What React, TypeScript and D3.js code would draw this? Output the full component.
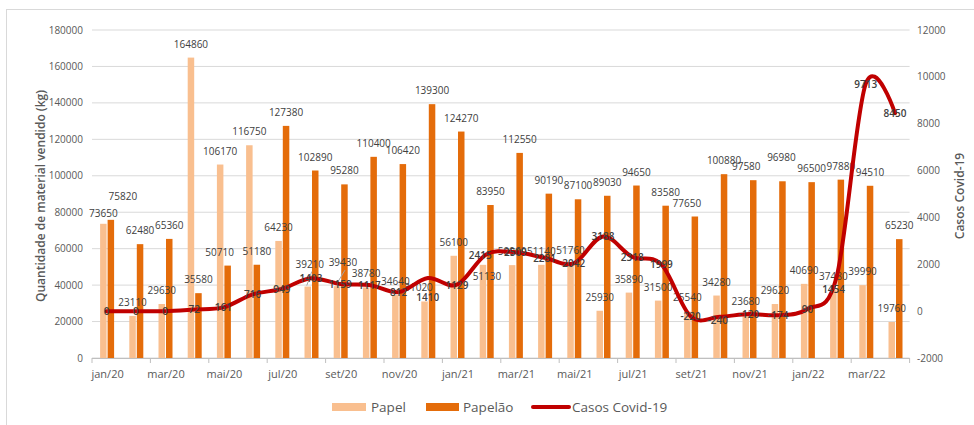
import React from "react";
import * as d3 from "d3";

const months = [
  "jan/20","fev/20","mar/20","abr/20","mai/20","jun/20","jul/20","ago/20","set/20","out/20","nov/20","dez/20",
  "jan/21","fev/21","mar/21","abr/21","mai/21","jun/21","jul/21","ago/21","set/21","out/21","nov/21","dez/21",
  "jan/22","fev/22","mar/22","abr/22"
];
const papel = [
  73650, 23110, 29630, 164860, 106170, 116750, 64230, 39210, 39430, 38780, 34640, 31020,
  56100, 51130, 50960, 51140, 51760, 25930, 35890, 31500, 25540, 34280, 23680, 29620,
  40690, 37480, 39990, 19760
];
const papelao = [
  75820, 62480, 65360, 35580, 50710, 51180, 127380, 102890, 95280, 110400, 106420, 139300,
  124270, 83950, 112550, 90190, 87100, 89030, 94650, 83580, 77650, 100880, 97580, 96980,
  96500, 97880, 94510, 65230
];
const covid = [
  0, 0, 0, 72, 161, 716, 949, 1403, 1159, 1117, 812, 1410,
  1129, 2415, 2509, 2281, 2042, 3188, 2318, 1999, -220, -240, -120, -174,
  90, 1454, 9713, 8450
];
const leftTicks = [0, 20000, 40000, 60000, 80000, 100000, 120000, 140000, 160000, 180000];
const rightTicks = [-2000, 0, 2000, 4000, 6000, 8000, 10000, 12000];

// manual label displacements (as moved by hand in the original chart)
const nudges: Record<string, [number, number, boolean?]> = {
  "p0": [0, 3.5],
  "q0": [12, -9.5],
  "p7": [2, -9, true],
  "p8": [6, -10, true],
  "p11": [-6, 0],
  "p13": [4, 25],
  "q4": [-8, 0],
  "q20": [-8, 0],
  "q22": [-7, 0],
  "q23": [-1, -10],
  "c11": [0, 19],
  "c13": [-6, 0],
  "c21": [-2, 3],
  "c25": [-3, 12],
};

const W = 974, H = 425;
const PL = 92, PR = 909.6, PT = 30, PB = 358;
const C_PAPEL = "#F9BF8F";
const C_PAPELAO = "#E46C0A";
const C_LINE = "#C00000";
const FONT = "'Open Sans', 'Noto Sans', sans-serif";

export default function App() {
  const x = d3.scaleBand<string>().domain(months).range([PL, PR]).paddingInner(0).paddingOuter(0);
  const yL = d3.scaleLinear().domain([0, 180000]).range([PB, PT]);
  const yR = d3.scaleLinear().domain([-2000, 12000]).range([PB, PT]);
  const cx = (i: number) => (x(months[i]) as number) + x.bandwidth() / 2;
  const bw = 6.5;
  const line = d3.line<number>()
    .x((_, i) => cx(i))
    .y((d) => yR(d))
    .curve(d3.curveCardinal.tension(0));

  const nd = (k: string) => nudges[k] || [0, 0, false];

  const barLabel = (key: string, v: number, bx: number) => {
    const [dx, dy, leader] = nd(key);
    const lx = bx + dx, ly = yL(v) - 10 + dy;
    return (
      <g key={key}>
        {leader ? (
          <line x1={bx - 1} y1={yL(v) - 1} x2={lx + 2} y2={ly + 4} stroke="#a6a6a6" strokeWidth={1} />
        ) : null}
        <text x={lx} y={ly} textAnchor="middle" fontFamily={FONT} fontSize={10} fill="#404040">{v}</text>
      </g>
    );
  };

  return (
    <svg width={W} height={H} style={{ position: "fixed", left: 0, top: 0, background: "#fff" }}>
      <rect x={6.5} y={9.5} width={W} height={H} fill="#fff" stroke="#d9d9d9" />
      {leftTicks.map((t) => (
        <line key={"g" + t} x1={PL} x2={PR} y1={yL(t)} y2={yL(t)} stroke="#d9d9d9" strokeWidth={1} />
      ))}
      {leftTicks.map((t) => (
        <text key={"l" + t} x={83} y={yL(t) + 3.5} textAnchor="end" fontFamily={FONT} fontSize={10} fill="#595959">{t}</text>
      ))}
      {rightTicks.map((t) => (
        <text key={"r" + t} x={917} y={yR(t) + 3.5} textAnchor="start" fontFamily={FONT} fontSize={10} fill="#595959">{t}</text>
      ))}
      {papel.map((v, i) => (
        <rect key={"p" + i} x={cx(i) - bw} y={yL(v)} width={bw} height={PB - yL(v)} fill={C_PAPEL} />
      ))}
      {papelao.map((v, i) => (
        <rect key={"q" + i} x={cx(i) + 1} y={yL(v)} width={bw} height={PB - yL(v)} fill={C_PAPELAO} />
      ))}
      <line x1={PL} x2={PR} y1={PB + 0.5} y2={PB + 0.5} stroke="#bfbfbf" />
      {months.map((m, i) => (i % 2 === 0 ? (
        <line key={"t" + i} x1={x(m)} x2={x(m)} y1={PB} y2={PB + 5} stroke="#bfbfbf" />
      ) : null))}
      <line x1={PR} x2={PR} y1={PB} y2={PB + 5} stroke="#bfbfbf" />
      {months.map((m, i) => (i % 2 === 0 ? (
        <text key={"x" + i} x={cx(i) + 1} y={PB + 20} textAnchor="middle" fontFamily={FONT} fontSize={11} fill="#595959">{m}</text>
      ) : null))}
      {papel.map((v, i) => barLabel("p" + i, v, cx(i) - bw / 2))}
      {papelao.map((v, i) => barLabel("q" + i, v, cx(i) + 1 + bw / 2))}
      <path d={line(covid) || ""} fill="none" stroke={C_LINE} strokeWidth={4} strokeLinejoin="round" strokeLinecap="round" />
      {covid.map((v, i) => {
        const [dx, dy] = nd("c" + i);
        return (
          <text key={"cl" + i} x={cx(i) + dx} y={yR(v) + 4 + dy} textAnchor="middle" fontFamily={FONT} fontSize={10} fontWeight={600} fill="#404040">{v}</text>
        );
      })}
      <text transform={`translate(45,196) rotate(-90)`} textAnchor="middle" fontFamily={FONT} fontSize={12} fontWeight={600} fill="#595959">Quantidade de material vendido (kg)</text>
      <text transform={`translate(964,196) rotate(-90)`} textAnchor="middle" fontFamily={FONT} fontSize={12} fontWeight={600} fill="#595959">Casos Covid-19</text>
      <rect x={332} y={403} width={34} height={8} fill={C_PAPEL} />
      <text x={371} y={412} fontFamily={FONT} fontSize={13.5} fill="#595959">Papel</text>
      <rect x={426} y={403} width={33} height={8} fill={C_PAPELAO} />
      <text x={463} y={412} fontFamily={FONT} fontSize={13.5} fill="#595959">Papelão</text>
      <line x1={533} x2={569} y1={407} y2={407} stroke={C_LINE} strokeWidth={4} strokeLinecap="round" />
      <text x={572} y={412} fontFamily={FONT} fontSize={13.5} fill="#595959">Casos Covid-19</text>
    </svg>
  );
}
